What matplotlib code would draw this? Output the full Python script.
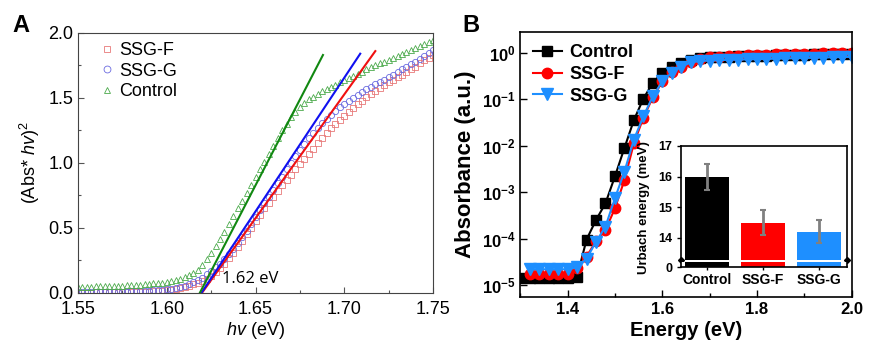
import numpy as np
import matplotlib
matplotlib.use("Agg")
import matplotlib.pyplot as plt
from matplotlib.ticker import MultipleLocator, FuncFormatter, NullLocator

plt.rcParams['font.family'] = ['Liberation Sans', 'DejaVu Sans']
plt.rcParams['mathtext.fontset'] = 'custom'
plt.rcParams['mathtext.rm'] = 'Liberation Sans'
plt.rcParams['mathtext.it'] = 'Liberation Sans:italic'
plt.rcParams['mathtext.bf'] = 'Liberation Sans:bold'

# ---------------- panel A: Tauc plot ----------------
energy_a = np.linspace(1.55, 1.75, 81)
tauc_ssg_f = [0.003, 0.003, 0.003, 0.003, 0.004, 0.004, 0.004, 0.005, 0.005, 0.005,
              0.006, 0.006, 0.007, 0.008, 0.009, 0.010, 0.011, 0.012, 0.014, 0.017,
              0.020, 0.024, 0.029, 0.036, 0.045, 0.055, 0.066, 0.078, 0.092, 0.110,
              0.130, 0.158, 0.190, 0.225, 0.265, 0.305, 0.350, 0.400, 0.450, 0.500,
              0.550, 0.600, 0.650, 0.695, 0.740, 0.785, 0.830, 0.870, 0.910, 0.950,
              0.990, 1.030, 1.070, 1.110, 1.150, 1.190, 1.230, 1.265, 1.300, 1.330,
              1.360, 1.390, 1.420, 1.450, 1.480, 1.505, 1.530, 1.555, 1.580, 1.600,
              1.620, 1.640, 1.660, 1.680, 1.700, 1.720, 1.740, 1.765, 1.790, 1.810,
              1.830]
tauc_ssg_g = [0.006, 0.006, 0.007, 0.007, 0.007, 0.008, 0.008, 0.008, 0.009, 0.009,
              0.010, 0.011, 0.012, 0.013, 0.014, 0.016, 0.018, 0.020, 0.023, 0.026,
              0.029, 0.034, 0.040, 0.047, 0.056, 0.067, 0.081, 0.098, 0.118, 0.142,
              0.168, 0.196, 0.226, 0.260, 0.300, 0.340, 0.385, 0.430, 0.480, 0.530,
              0.585, 0.635, 0.690, 0.740, 0.790, 0.845, 0.895, 0.950, 1.000, 1.050,
              1.100, 1.145, 1.190, 1.230, 1.270, 1.305, 1.340, 1.370, 1.400, 1.430,
              1.455, 1.480, 1.500, 1.525, 1.545, 1.565, 1.585, 1.605, 1.625, 1.640,
              1.660, 1.680, 1.700, 1.720, 1.740, 1.760, 1.780, 1.800, 1.820, 1.845,
              1.870]
tauc_control = [0.046, 0.047, 0.048, 0.049, 0.050, 0.051, 0.052, 0.053, 0.054, 0.055,
                0.057, 0.058, 0.060, 0.062, 0.064, 0.067, 0.070, 0.073, 0.076, 0.080,
                0.085, 0.091, 0.098, 0.108, 0.120, 0.135, 0.155, 0.180, 0.215, 0.260,
                0.310, 0.360, 0.415, 0.470, 0.530, 0.590, 0.650, 0.710, 0.770, 0.830,
                0.890, 0.950, 1.010, 1.070, 1.130, 1.190, 1.250, 1.300, 1.350, 1.390,
                1.430, 1.460, 1.490, 1.510, 1.530, 1.550, 1.570, 1.585, 1.600, 1.620,
                1.635, 1.650, 1.670, 1.685, 1.700, 1.720, 1.735, 1.750, 1.765, 1.780,
                1.795, 1.810, 1.825, 1.840, 1.855, 1.870, 1.885, 1.900, 1.915, 1.930,
                1.945]
# linear fits: x-intercept, end point (x, y) -- SSG-F, SSG-G, Control
fit_x0 = [1.6198, 1.6195, 1.6186]
fit_x1 = [1.7175, 1.709, 1.688]
fit_y1 = [1.86, 1.84, 1.83]

# ---------------- panel B: absorbance (log10) ----------------
energy_ctrl = np.round(np.arange(1.30, 2.001, 0.02), 2)
energy_ssg = np.round(np.arange(1.32, 2.001, 0.02), 2)
log_abs_control = [-4.84, -4.84, -4.84, -4.84, -4.84, -4.84,
                   -4.82, -4.02, -3.60, -3.24, -2.66, -2.05, -1.45, -0.99, -0.65, -0.43,
                   -0.31, -0.22, -0.16, -0.12, -0.10, -0.09, -0.085, -0.08, -0.075, -0.07,
                   -0.065, -0.06, -0.055, -0.05, -0.045, -0.04, -0.04, -0.035, -0.03, -0.03]
log_abs_ssg_f = [-4.76, -4.76, -4.76, -4.76, -4.76,
                 -4.64, -4.39, -4.05, -3.81, -3.35, -2.74, -1.95, -1.40, -0.96, -0.62,
                 -0.42, -0.30, -0.20, -0.14, -0.10, -0.085, -0.075, -0.065, -0.06, -0.05,
                 -0.045, -0.04, -0.035, -0.03, -0.025, -0.02, -0.015, -0.01, -0.005, 0.0]
log_abs_ssg_g = [-4.66, -4.66, -4.66, -4.66, -4.66,
                 -4.62, -4.43, -4.07, -3.74, -3.13, -2.56, -1.87, -1.37, -0.94, -0.62,
                 -0.43, -0.30, -0.21, -0.18, -0.17, -0.16, -0.155, -0.15, -0.145, -0.14,
                 -0.135, -0.13, -0.125, -0.12, -0.115, -0.11, -0.105, -0.10, -0.095, -0.09]

# inset: Urbach energy
samples = ['Control', 'SSG-F', 'SSG-G']
urbach = [16.0, 14.5, 14.2]
urbach_err = [0.42, 0.40, 0.38]
bar_colors = ['#000000', '#ff0000', '#1e8fff']

fig = plt.figure(figsize=(8.7, 3.5), dpi=100)

# ---- A ----
axA = fig.add_axes([0.0897, 0.163, 0.408, 0.743])
axA.plot(energy_a, tauc_ssg_f, 's', mfc='none', mec='#e87878', ms=4.5, mew=0.6, label='SSG-F')
axA.plot(energy_a, tauc_ssg_g, 'o', mfc='none', mec='#6a6ae0', ms=4.5, mew=0.6, label='SSG-G')
axA.plot(energy_a, tauc_control, '^', mfc='none', mec='#4caa4c', ms=4.5, mew=0.6, label='Control')
for x0, x1, y1, c in zip(fit_x0, fit_x1, fit_y1, ['#f01010', '#1010f0', '#118811']):
    axA.plot([x0, x1], [0, y1], '-', color=c, lw=1.5)
axA.text(1.631, 0.11, '1.62 eV', family='Open Sans', fontsize=12, va='center')
axA.set_xlim(1.55, 1.75)
axA.set_ylim(0, 2.0)
axA.xaxis.set_major_locator(MultipleLocator(0.05))
axA.xaxis.set_minor_locator(MultipleLocator(0.025))
axA.yaxis.set_major_locator(MultipleLocator(0.5))
axA.yaxis.set_minor_locator(MultipleLocator(0.25))
axA.xaxis.set_major_formatter(FuncFormatter(lambda v, p: '%.2f' % v))
axA.yaxis.set_major_formatter(FuncFormatter(lambda v, p: '%.1f' % v))
axA.tick_params(which='both', direction='in', color='#555555', labelsize=13, width=0.8)
axA.tick_params(which='major', length=4)
axA.tick_params(which='minor', length=2)
axA.tick_params(axis='x', pad=6)
for s in axA.spines.values():
    s.set_color('#444444')
axA.set_xlabel(r'$\mathit{hv}$ (eV)', fontsize=13, labelpad=1)
axA.set_ylabel(r'(Abs* $\mathit{hv}$)$^2$', fontsize=13, labelpad=4)
leg = axA.legend(loc='upper left', frameon=False, fontsize=13, handlelength=0.6,
                 handletextpad=0.4, labelspacing=0.2, borderaxespad=0.1, markerscale=1.1,
                 bbox_to_anchor=(0.04, 1.0))
fig.text(0.014, 0.909, 'A', fontsize=17, fontweight='bold', va='baseline')

# ---- B ----
axB = fig.add_axes([0.598, 0.151, 0.381, 0.758])
axB.semilogy(energy_ctrl, 10 ** np.array(log_abs_control), '-s', color='black', ms=7, lw=1.5, label='Control')
axB.semilogy(energy_ssg, 10 ** np.array(log_abs_ssg_f), '-o', color='#ff0000', ms=7.5, lw=1.5, label='SSG-F')
axB.semilogy(energy_ssg, 10 ** np.array(log_abs_ssg_g), '-v', color='#1e8fff', ms=8, lw=1.5, label='SSG-G')
axB.set_xlim(1.3, 2.0)
axB.set_ylim(5.5e-6, 2.8)
axB.set_yticks([1e-5, 1e-4, 1e-3, 1e-2, 1e-1, 1])
axB.yaxis.set_minor_locator(NullLocator())
axB.yaxis.set_major_formatter(FuncFormatter(lambda v, p: r'$\mathbf{10^{%d}}$' % round(np.log10(v))))
axB.xaxis.set_major_locator(MultipleLocator(0.2))
axB.xaxis.set_minor_locator(MultipleLocator(0.1))
axB.xaxis.set_major_formatter(FuncFormatter(lambda v, p: '%.1f' % v))
axB.tick_params(which='both', direction='in', labelsize=12, width=1)
axB.tick_params(which='major', length=5)
axB.tick_params(which='minor', length=3)
for lab in axB.get_xticklabels():
    lab.set_fontweight('bold')
for s in axB.spines.values():
    s.set_linewidth(1.2)
axB.set_xlabel('Energy (eV)', fontsize=14.5, fontweight='bold', labelpad=3)
axB.set_ylabel('Absorbance (a.u.)', fontsize=16, fontweight='bold', labelpad=4)
axB.legend(loc='upper left', frameon=False, prop={'size': 13, 'weight': 'bold'},
           handlelength=1.6, handletextpad=0.4, labelspacing=0.25, borderaxespad=0.3)
fig.text(0.532, 0.909, 'B', fontsize=17, fontweight='bold', va='baseline')

# ---- inset with broken y axis ----
x_pos = np.arange(len(samples))
axI = fig.add_axes([0.783, 0.257, 0.191, 0.326])
axI0 = fig.add_axes([0.783, 0.237, 0.191, 0.0143])
axI.bar(x_pos, urbach, width=0.79, color=bar_colors, yerr=urbach_err, ecolor='#808080',
        capsize=2.5, error_kw=dict(elinewidth=2, capthick=1.5))
axI0.bar(x_pos, urbach, width=0.79, color=bar_colors)
axI.set_ylim(13.28, 17)
axI0.set_ylim(0, 1)
for ax in (axI, axI0):
    ax.set_xlim(-0.47, 2.51)
    ax.tick_params(direction='out', length=3, width=1, labelsize=9)
    for s in ax.spines.values():
        s.set_linewidth(1.2)
axI.spines['bottom'].set_visible(False)
axI0.spines['top'].set_visible(False)
axI.set_xticks([])
axI.set_yticks([14, 15, 16, 17])
axI0.set_yticks([0])
axI0.set_xticks(x_pos)
axI0.set_xticklabels(samples, fontsize=10, fontweight='bold')
axI0.tick_params(axis='x', length=2, pad=2)
for lab in axI.get_yticklabels() + axI0.get_yticklabels():
    lab.set_fontweight('bold')
axI.plot([0, 1], [0, 0], 'D', color='black', ms=3, transform=axI.transAxes, clip_on=False)
axI.set_ylabel('Urbach energy (meV)', fontsize=9.5, fontweight='bold')
axI.yaxis.set_label_coords(-0.19, 0.46)

fig.savefig('out.png', dpi=100)
